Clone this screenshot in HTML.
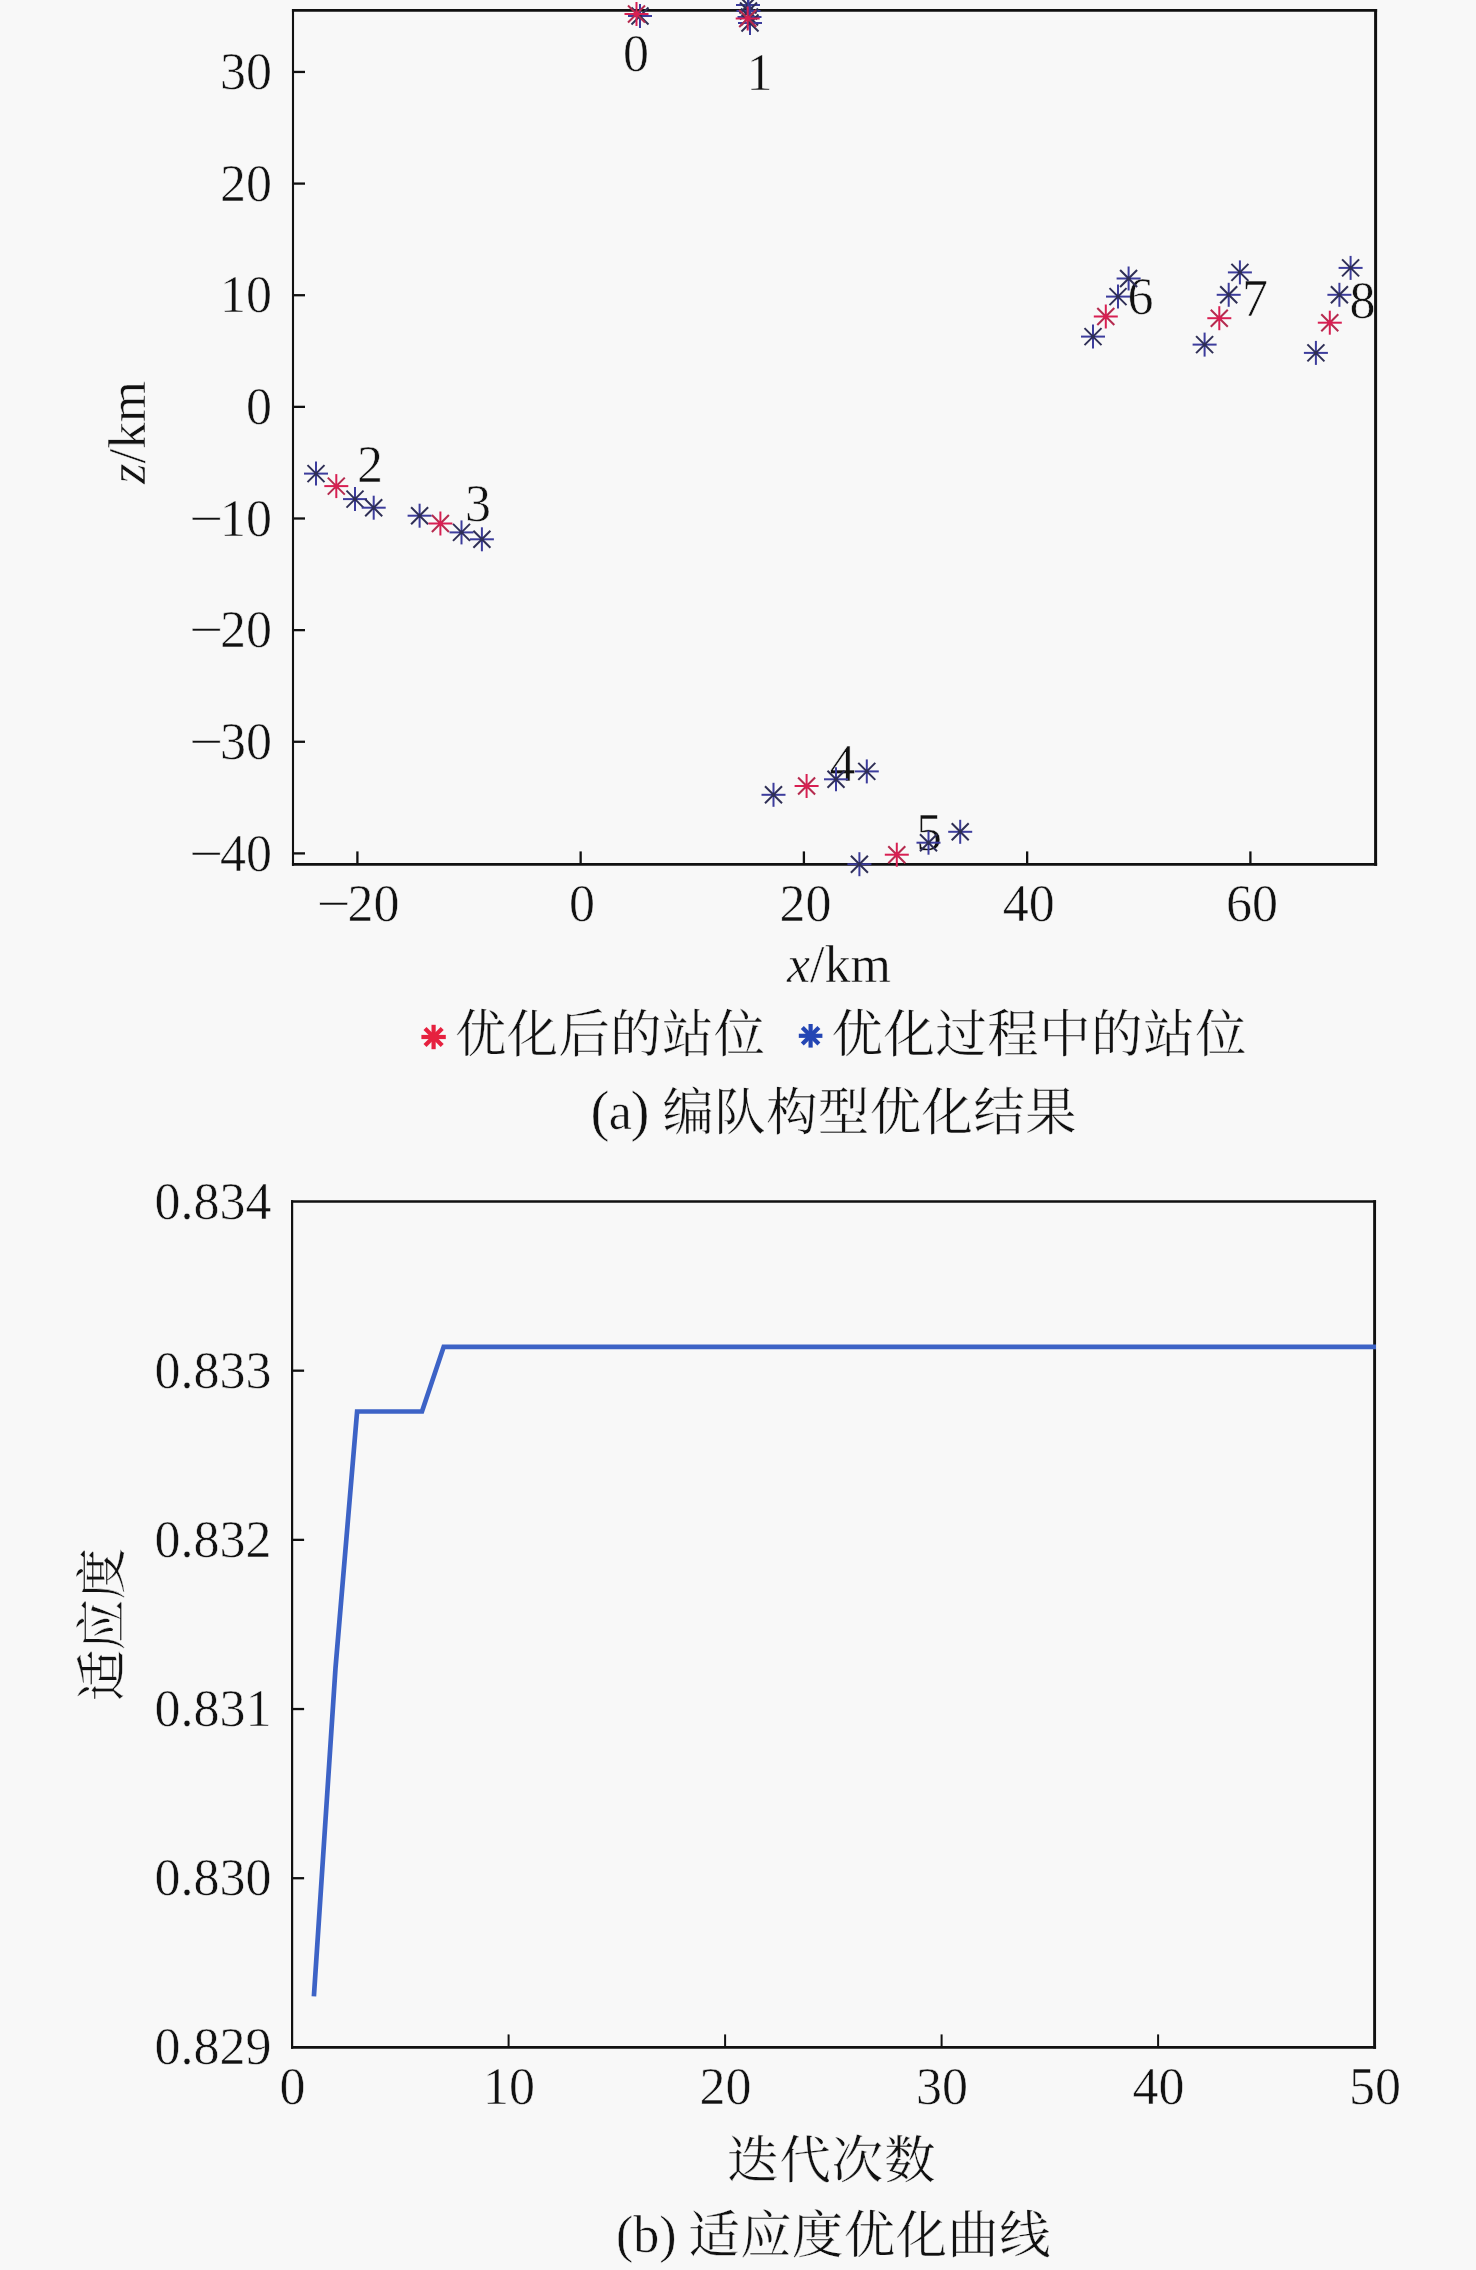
<!DOCTYPE html>
<html lang="zh-CN">
<head>
<meta charset="utf-8">
<title>编队构型优化结果</title>
<style>
html,body{margin:0;padding:0;background:#f8f8f8;}
body{width:1476px;height:2270px;overflow:hidden;}
svg{display:block;}
text{font-family:"Liberation Serif","Noto Serif CJK SC",serif;fill:#111111;}
.num{font-size:52px;stroke:#f8f8f8;stroke-width:0.55px;}
.cjk{font-family:"Liberation Serif","Noto Serif CJK SC",serif;font-size:51.3px;font-weight:400;stroke:#f8f8f8;stroke-width:0.3px;}
.lat{font-size:52px;stroke:#f8f8f8;stroke-width:0.5px;}
.it{font-style:italic;}
.ax{stroke:#111;fill:none;}
.mk line{stroke-width:2.0;stroke-linecap:butt;}
</style>
</head>
<body>
<svg width="1476" height="2270" viewBox="0 0 1476 2270">
<rect x="0" y="0" width="1476" height="2270" fill="#f8f8f8"/>

<line class="ax" x1="293.0" y1="8.950000000000001" x2="293.0" y2="865.75" stroke-width="2.1"/>
<line class="ax" x1="1375.6" y1="8.950000000000001" x2="1375.6" y2="865.75" stroke-width="3.0"/>
<line class="ax" x1="291.95" y1="10.3" x2="1377.1" y2="10.3" stroke-width="2.7"/>
<line class="ax" x1="291.95" y1="864.4" x2="1377.1" y2="864.4" stroke-width="2.7"/>
<line class="ax" x1="293.0" y1="71.95" x2="305.0" y2="71.95" stroke-width="2.3"/>
<text class="num" x="272.0" y="89.2" text-anchor="end">30</text>
<line class="ax" x1="293.0" y1="183.59" x2="305.0" y2="183.59" stroke-width="2.3"/>
<text class="num" x="272.0" y="200.8" text-anchor="end">20</text>
<line class="ax" x1="293.0" y1="295.22" x2="305.0" y2="295.22" stroke-width="2.3"/>
<text class="num" x="272.0" y="312.4" text-anchor="end">10</text>
<line class="ax" x1="293.0" y1="406.86" x2="305.0" y2="406.86" stroke-width="2.3"/>
<text class="num" x="272.0" y="424.1" text-anchor="end">0</text>
<line class="ax" x1="293.0" y1="518.49" x2="305.0" y2="518.49" stroke-width="2.3"/>
<text class="num" x="220.0" y="535.7">10</text>
<text class="num" transform="translate(222.9,535.8) scale(1.16,1)" text-anchor="end">−</text>
<line class="ax" x1="293.0" y1="630.13" x2="305.0" y2="630.13" stroke-width="2.3"/>
<text class="num" x="220.0" y="647.3">20</text>
<text class="num" transform="translate(222.9,647.4) scale(1.16,1)" text-anchor="end">−</text>
<line class="ax" x1="293.0" y1="741.77" x2="305.0" y2="741.77" stroke-width="2.3"/>
<text class="num" x="220.0" y="759.0">30</text>
<text class="num" transform="translate(222.9,759.1) scale(1.16,1)" text-anchor="end">−</text>
<line class="ax" x1="293.0" y1="853.40" x2="305.0" y2="853.40" stroke-width="2.3"/>
<text class="num" x="220.0" y="870.6">40</text>
<text class="num" transform="translate(222.9,870.7) scale(1.16,1)" text-anchor="end">−</text>
<line class="ax" x1="357.40" y1="864.4" x2="357.40" y2="851.4" stroke-width="2.3"/>
<text class="num" x="347.6" y="921.3">20</text>
<text class="num" transform="translate(350.4,921.4) scale(1.16,1)" text-anchor="end">−</text>
<line class="ax" x1="580.65" y1="864.4" x2="580.65" y2="851.4" stroke-width="2.3"/>
<text class="num" x="582.1" y="921.3" text-anchor="middle">0</text>
<line class="ax" x1="803.90" y1="864.4" x2="803.90" y2="851.4" stroke-width="2.3"/>
<text class="num" x="805.4" y="921.3" text-anchor="middle">20</text>
<line class="ax" x1="1027.15" y1="864.4" x2="1027.15" y2="851.4" stroke-width="2.3"/>
<text class="num" x="1028.7" y="921.3" text-anchor="middle">40</text>
<line class="ax" x1="1250.40" y1="864.4" x2="1250.40" y2="851.4" stroke-width="2.3"/>
<text class="num" x="1251.9" y="921.3" text-anchor="middle">60</text>
<text class="num" style="font-size:53px" transform="translate(145.2,432.5) rotate(-90)" text-anchor="middle"><tspan class="it">z</tspan>/km</text>
<text class="num" x="839" y="982" text-anchor="middle"><tspan class="it">x</tspan>/km</text>
<text class="num" x="636" y="71" text-anchor="middle">0</text>
<text class="num" x="759.5" y="90" text-anchor="middle">1</text>
<text class="num" x="370" y="482" text-anchor="middle">2</text>
<text class="num" x="478" y="521" text-anchor="middle">3</text>
<text class="num" x="842.5" y="781" text-anchor="middle">4</text>
<text class="num" x="929" y="850" text-anchor="middle">5</text>
<text class="num" x="1140.5" y="314" text-anchor="middle">6</text>
<text class="num" x="1255" y="316" text-anchor="middle">7</text>
<text class="num" x="1362.5" y="318" text-anchor="middle">8</text>
<g class="mk" stroke="#3c3c9c"><line x1="631.5" y1="7.5" x2="648.5" y2="24.5" stroke="#2e2e55"/><line x1="631.5" y1="24.5" x2="648.5" y2="7.5" stroke="#2e2e55"/><line x1="628.0" y1="16.0" x2="652.0" y2="16.0"/><line x1="640.0" y1="4.0" x2="640.0" y2="28.0"/></g>
<circle cx="640" cy="16" r="2.2" fill="#2e2e55"/>
<g class="mk" stroke="#3c3c9c"><line x1="739.5" y1="-3.5" x2="756.5" y2="13.5" stroke="#2e2e55"/><line x1="739.5" y1="13.5" x2="756.5" y2="-3.5" stroke="#2e2e55"/><line x1="736.0" y1="5.0" x2="760.0" y2="5.0"/><line x1="748.0" y1="-7.0" x2="748.0" y2="17.0"/></g>
<circle cx="748" cy="5" r="2.2" fill="#2e2e55"/>
<g class="mk" stroke="#3c3c9c"><line x1="740.0" y1="2.5" x2="757.0" y2="19.5" stroke="#2e2e55"/><line x1="740.0" y1="19.5" x2="757.0" y2="2.5" stroke="#2e2e55"/><line x1="736.5" y1="11.0" x2="760.5" y2="11.0"/><line x1="748.5" y1="-1.0" x2="748.5" y2="23.0"/></g>
<circle cx="748.5" cy="11" r="2.2" fill="#2e2e55"/>
<g class="mk" stroke="#3c3c9c"><line x1="741.0" y1="8.5" x2="758.0" y2="25.5" stroke="#2e2e55"/><line x1="741.0" y1="25.5" x2="758.0" y2="8.5" stroke="#2e2e55"/><line x1="737.5" y1="17.0" x2="761.5" y2="17.0"/><line x1="749.5" y1="5.0" x2="749.5" y2="29.0"/></g>
<circle cx="749.5" cy="17" r="2.2" fill="#2e2e55"/>
<g class="mk" stroke="#3c3c9c"><line x1="741.5" y1="14.5" x2="758.5" y2="31.5" stroke="#2e2e55"/><line x1="741.5" y1="31.5" x2="758.5" y2="14.5" stroke="#2e2e55"/><line x1="738.0" y1="23.0" x2="762.0" y2="23.0"/><line x1="750.0" y1="11.0" x2="750.0" y2="35.0"/></g>
<circle cx="750" cy="23" r="2.2" fill="#2e2e55"/>
<g class="mk" stroke="#3c3c9c"><line x1="307.5" y1="465.1" x2="324.5" y2="482.1" stroke="#2e2e55"/><line x1="307.5" y1="482.1" x2="324.5" y2="465.1" stroke="#2e2e55"/><line x1="304.0" y1="473.6" x2="328.0" y2="473.6"/><line x1="316.0" y1="461.6" x2="316.0" y2="485.6"/></g>
<circle cx="316" cy="473.6" r="2.2" fill="#2e2e55"/>
<g class="mk" stroke="#3c3c9c"><line x1="346.5" y1="490.6" x2="363.5" y2="507.6" stroke="#2e2e55"/><line x1="346.5" y1="507.6" x2="363.5" y2="490.6" stroke="#2e2e55"/><line x1="343.0" y1="499.1" x2="367.0" y2="499.1"/><line x1="355.0" y1="487.1" x2="355.0" y2="511.1"/></g>
<circle cx="355" cy="499.1" r="2.2" fill="#2e2e55"/>
<g class="mk" stroke="#3c3c9c"><line x1="365.2" y1="499.2" x2="382.2" y2="516.2" stroke="#2e2e55"/><line x1="365.2" y1="516.2" x2="382.2" y2="499.2" stroke="#2e2e55"/><line x1="361.7" y1="507.7" x2="385.7" y2="507.7"/><line x1="373.7" y1="495.7" x2="373.7" y2="519.7"/></g>
<circle cx="373.7" cy="507.7" r="2.2" fill="#2e2e55"/>
<g class="mk" stroke="#3c3c9c"><line x1="411.1" y1="507.2" x2="428.1" y2="524.2" stroke="#2e2e55"/><line x1="411.1" y1="524.2" x2="428.1" y2="507.2" stroke="#2e2e55"/><line x1="407.6" y1="515.7" x2="431.6" y2="515.7"/><line x1="419.6" y1="503.7" x2="419.6" y2="527.7"/></g>
<circle cx="419.6" cy="515.7" r="2.2" fill="#2e2e55"/>
<g class="mk" stroke="#3c3c9c"><line x1="453.0" y1="523.9" x2="470.0" y2="540.9" stroke="#2e2e55"/><line x1="453.0" y1="540.9" x2="470.0" y2="523.9" stroke="#2e2e55"/><line x1="449.5" y1="532.4" x2="473.5" y2="532.4"/><line x1="461.5" y1="520.4" x2="461.5" y2="544.4"/></g>
<circle cx="461.5" cy="532.4" r="2.2" fill="#2e2e55"/>
<g class="mk" stroke="#3c3c9c"><line x1="473.4" y1="530.8" x2="490.4" y2="547.8" stroke="#2e2e55"/><line x1="473.4" y1="547.8" x2="490.4" y2="530.8" stroke="#2e2e55"/><line x1="469.9" y1="539.3" x2="493.9" y2="539.3"/><line x1="481.9" y1="527.3" x2="481.9" y2="551.3"/></g>
<circle cx="481.9" cy="539.3" r="2.2" fill="#2e2e55"/>
<g class="mk" stroke="#3c3c9c"><line x1="765.0" y1="786.3" x2="782.0" y2="803.3" stroke="#2e2e55"/><line x1="765.0" y1="803.3" x2="782.0" y2="786.3" stroke="#2e2e55"/><line x1="761.5" y1="794.8" x2="785.5" y2="794.8"/><line x1="773.5" y1="782.8" x2="773.5" y2="806.8"/></g>
<circle cx="773.5" cy="794.8" r="2.2" fill="#2e2e55"/>
<g class="mk" stroke="#3c3c9c"><line x1="827.5" y1="770.8" x2="844.5" y2="787.8" stroke="#2e2e55"/><line x1="827.5" y1="787.8" x2="844.5" y2="770.8" stroke="#2e2e55"/><line x1="824.0" y1="779.3" x2="848.0" y2="779.3"/><line x1="836.0" y1="767.3" x2="836.0" y2="791.3"/></g>
<circle cx="836" cy="779.3" r="2.2" fill="#2e2e55"/>
<g class="mk" stroke="#3c3c9c"><line x1="858.3" y1="762.9" x2="875.3" y2="779.9" stroke="#2e2e55"/><line x1="858.3" y1="779.9" x2="875.3" y2="762.9" stroke="#2e2e55"/><line x1="854.8" y1="771.4" x2="878.8" y2="771.4"/><line x1="866.8" y1="759.4" x2="866.8" y2="783.4"/></g>
<circle cx="866.8" cy="771.4" r="2.2" fill="#2e2e55"/>
<g class="mk" stroke="#3c3c9c"><line x1="850.9" y1="855.7" x2="867.9" y2="872.7" stroke="#2e2e55"/><line x1="850.9" y1="872.7" x2="867.9" y2="855.7" stroke="#2e2e55"/><line x1="847.4" y1="864.2" x2="871.4" y2="864.2"/><line x1="859.4" y1="852.2" x2="859.4" y2="876.2"/></g>
<circle cx="859.4" cy="864.2" r="2.2" fill="#2e2e55"/>
<g class="mk" stroke="#3c3c9c"><line x1="920.0" y1="834.2" x2="937.0" y2="851.2" stroke="#2e2e55"/><line x1="920.0" y1="851.2" x2="937.0" y2="834.2" stroke="#2e2e55"/><line x1="916.5" y1="842.7" x2="940.5" y2="842.7"/><line x1="928.5" y1="830.7" x2="928.5" y2="854.7"/></g>
<circle cx="928.5" cy="842.7" r="2.2" fill="#2e2e55"/>
<g class="mk" stroke="#3c3c9c"><line x1="951.7" y1="823.3" x2="968.7" y2="840.3" stroke="#2e2e55"/><line x1="951.7" y1="840.3" x2="968.7" y2="823.3" stroke="#2e2e55"/><line x1="948.2" y1="831.8" x2="972.2" y2="831.8"/><line x1="960.2" y1="819.8" x2="960.2" y2="843.8"/></g>
<circle cx="960.2" cy="831.8" r="2.2" fill="#2e2e55"/>
<g class="mk" stroke="#3c3c9c"><line x1="1084.5" y1="328.1" x2="1101.5" y2="345.1" stroke="#2e2e55"/><line x1="1084.5" y1="345.1" x2="1101.5" y2="328.1" stroke="#2e2e55"/><line x1="1081.0" y1="336.6" x2="1105.0" y2="336.6"/><line x1="1093.0" y1="324.6" x2="1093.0" y2="348.6"/></g>
<circle cx="1093" cy="336.6" r="2.2" fill="#2e2e55"/>
<g class="mk" stroke="#3c3c9c"><line x1="1109.5" y1="288.1" x2="1126.5" y2="305.1" stroke="#2e2e55"/><line x1="1109.5" y1="305.1" x2="1126.5" y2="288.1" stroke="#2e2e55"/><line x1="1106.0" y1="296.6" x2="1130.0" y2="296.6"/><line x1="1118.0" y1="284.6" x2="1118.0" y2="308.6"/></g>
<circle cx="1118" cy="296.6" r="2.2" fill="#2e2e55"/>
<g class="mk" stroke="#3c3c9c"><line x1="1120.1" y1="270.0" x2="1137.1" y2="287.0" stroke="#2e2e55"/><line x1="1120.1" y1="287.0" x2="1137.1" y2="270.0" stroke="#2e2e55"/><line x1="1116.6" y1="278.5" x2="1140.6" y2="278.5"/><line x1="1128.6" y1="266.5" x2="1128.6" y2="290.5"/></g>
<circle cx="1128.6" cy="278.5" r="2.2" fill="#2e2e55"/>
<g class="mk" stroke="#3c3c9c"><line x1="1196.1" y1="336.1" x2="1213.1" y2="353.1" stroke="#2e2e55"/><line x1="1196.1" y1="353.1" x2="1213.1" y2="336.1" stroke="#2e2e55"/><line x1="1192.6" y1="344.6" x2="1216.6" y2="344.6"/><line x1="1204.6" y1="332.6" x2="1204.6" y2="356.6"/></g>
<circle cx="1204.6" cy="344.6" r="2.2" fill="#2e2e55"/>
<g class="mk" stroke="#3c3c9c"><line x1="1220.2" y1="286.3" x2="1237.2" y2="303.3" stroke="#2e2e55"/><line x1="1220.2" y1="303.3" x2="1237.2" y2="286.3" stroke="#2e2e55"/><line x1="1216.7" y1="294.8" x2="1240.7" y2="294.8"/><line x1="1228.7" y1="282.8" x2="1228.7" y2="306.8"/></g>
<circle cx="1228.7" cy="294.8" r="2.2" fill="#2e2e55"/>
<g class="mk" stroke="#3c3c9c"><line x1="1231.4" y1="263.9" x2="1248.4" y2="280.9" stroke="#2e2e55"/><line x1="1231.4" y1="280.9" x2="1248.4" y2="263.9" stroke="#2e2e55"/><line x1="1227.9" y1="272.4" x2="1251.9" y2="272.4"/><line x1="1239.9" y1="260.4" x2="1239.9" y2="284.4"/></g>
<circle cx="1239.9" cy="272.4" r="2.2" fill="#2e2e55"/>
<g class="mk" stroke="#3c3c9c"><line x1="1307.4" y1="344.4" x2="1324.4" y2="361.4" stroke="#2e2e55"/><line x1="1307.4" y1="361.4" x2="1324.4" y2="344.4" stroke="#2e2e55"/><line x1="1303.9" y1="352.9" x2="1327.9" y2="352.9"/><line x1="1315.9" y1="340.9" x2="1315.9" y2="364.9"/></g>
<circle cx="1315.9" cy="352.9" r="2.2" fill="#2e2e55"/>
<g class="mk" stroke="#3c3c9c"><line x1="1330.9" y1="286.3" x2="1347.9" y2="303.3" stroke="#2e2e55"/><line x1="1330.9" y1="303.3" x2="1347.9" y2="286.3" stroke="#2e2e55"/><line x1="1327.4" y1="294.8" x2="1351.4" y2="294.8"/><line x1="1339.4" y1="282.8" x2="1339.4" y2="306.8"/></g>
<circle cx="1339.4" cy="294.8" r="2.2" fill="#2e2e55"/>
<g class="mk" stroke="#3c3c9c"><line x1="1342.1" y1="259.4" x2="1359.1" y2="276.4" stroke="#2e2e55"/><line x1="1342.1" y1="276.4" x2="1359.1" y2="259.4" stroke="#2e2e55"/><line x1="1338.6" y1="267.9" x2="1362.6" y2="267.9"/><line x1="1350.6" y1="255.9" x2="1350.6" y2="279.9"/></g>
<circle cx="1350.6" cy="267.9" r="2.2" fill="#2e2e55"/>
<g class="mk" stroke="#d81f52" stroke-width="2.4"><line x1="628.0" y1="5.5" x2="645.0" y2="22.5" stroke="#b52a4e"/><line x1="628.0" y1="22.5" x2="645.0" y2="5.5" stroke="#b52a4e"/><line x1="624.5" y1="14.0" x2="648.5" y2="14.0"/><line x1="636.5" y1="2.0" x2="636.5" y2="26.0"/></g>
<circle cx="636.5" cy="14" r="2.6" fill="#d81f52"/>
<g class="mk" stroke="#d81f52" stroke-width="2.4"><line x1="739.2" y1="10.0" x2="756.2" y2="27.0" stroke="#b52a4e"/><line x1="739.2" y1="27.0" x2="756.2" y2="10.0" stroke="#b52a4e"/><line x1="735.7" y1="18.5" x2="759.7" y2="18.5"/><line x1="747.7" y1="6.5" x2="747.7" y2="30.5"/></g>
<circle cx="747.7" cy="18.5" r="2.6" fill="#d81f52"/>
<g class="mk" stroke="#d81f52" stroke-width="2.4"><line x1="327.8" y1="477.6" x2="344.8" y2="494.6" stroke="#b52a4e"/><line x1="327.8" y1="494.6" x2="344.8" y2="477.6" stroke="#b52a4e"/><line x1="324.3" y1="486.1" x2="348.3" y2="486.1"/><line x1="336.3" y1="474.1" x2="336.3" y2="498.1"/></g>
<circle cx="336.3" cy="486.1" r="2.6" fill="#d81f52"/>
<g class="mk" stroke="#d81f52" stroke-width="2.4"><line x1="431.9" y1="515.0" x2="448.9" y2="532.0" stroke="#b52a4e"/><line x1="431.9" y1="532.0" x2="448.9" y2="515.0" stroke="#b52a4e"/><line x1="428.4" y1="523.5" x2="452.4" y2="523.5"/><line x1="440.4" y1="511.5" x2="440.4" y2="535.5"/></g>
<circle cx="440.4" cy="523.5" r="2.6" fill="#d81f52"/>
<g class="mk" stroke="#d81f52" stroke-width="2.4"><line x1="798.1" y1="777.5" x2="815.1" y2="794.5" stroke="#b52a4e"/><line x1="798.1" y1="794.5" x2="815.1" y2="777.5" stroke="#b52a4e"/><line x1="794.6" y1="786.0" x2="818.6" y2="786.0"/><line x1="806.6" y1="774.0" x2="806.6" y2="798.0"/></g>
<circle cx="806.6" cy="786" r="2.6" fill="#d81f52"/>
<g class="mk" stroke="#d81f52" stroke-width="2.4"><line x1="888.3" y1="846.2" x2="905.3" y2="863.2" stroke="#b52a4e"/><line x1="888.3" y1="863.2" x2="905.3" y2="846.2" stroke="#b52a4e"/><line x1="884.8" y1="854.7" x2="908.8" y2="854.7"/><line x1="896.8" y1="842.7" x2="896.8" y2="866.7"/></g>
<circle cx="896.8" cy="854.7" r="2.6" fill="#d81f52"/>
<g class="mk" stroke="#d81f52" stroke-width="2.4"><line x1="1097.3" y1="308.0" x2="1114.3" y2="325.0" stroke="#b52a4e"/><line x1="1097.3" y1="325.0" x2="1114.3" y2="308.0" stroke="#b52a4e"/><line x1="1093.8" y1="316.5" x2="1117.8" y2="316.5"/><line x1="1105.8" y1="304.5" x2="1105.8" y2="328.5"/></g>
<circle cx="1105.8" cy="316.5" r="2.6" fill="#d81f52"/>
<g class="mk" stroke="#d81f52" stroke-width="2.4"><line x1="1210.8" y1="309.7" x2="1227.8" y2="326.7" stroke="#b52a4e"/><line x1="1210.8" y1="326.7" x2="1227.8" y2="309.7" stroke="#b52a4e"/><line x1="1207.3" y1="318.2" x2="1231.3" y2="318.2"/><line x1="1219.3" y1="306.2" x2="1219.3" y2="330.2"/></g>
<circle cx="1219.3" cy="318.2" r="2.6" fill="#d81f52"/>
<g class="mk" stroke="#d81f52" stroke-width="2.4"><line x1="1321.3" y1="314.2" x2="1338.3" y2="331.2" stroke="#b52a4e"/><line x1="1321.3" y1="331.2" x2="1338.3" y2="314.2" stroke="#b52a4e"/><line x1="1317.8" y1="322.7" x2="1341.8" y2="322.7"/><line x1="1329.8" y1="310.7" x2="1329.8" y2="334.7"/></g>
<circle cx="1329.8" cy="322.7" r="2.6" fill="#d81f52"/>
<g class="lg" stroke="#e6213f" stroke-width="4.2"><line x1="425.0" y1="1028.4" x2="442.2" y2="1045.6"/><line x1="425.0" y1="1045.6" x2="442.2" y2="1028.4"/><line x1="421.4" y1="1037.0" x2="445.8" y2="1037.0"/><line x1="433.6" y1="1024.8" x2="433.6" y2="1049.2"/></g>
<circle cx="433.6" cy="1037.0" r="4.3" fill="#e6213f"/>
<g class="lg" stroke="#2446b4" stroke-width="4.2"><line x1="802.3" y1="1027.5" x2="818.9" y2="1044.1"/><line x1="802.3" y1="1044.1" x2="818.9" y2="1027.5"/><line x1="798.8" y1="1035.8" x2="822.4" y2="1035.8"/><line x1="810.6" y1="1024.0" x2="810.6" y2="1047.6"/></g>
<circle cx="810.6" cy="1035.8" r="4.3" fill="#2446b4"/>
<text class="cjk" x="455" y="1051.6" textLength="310" lengthAdjust="spacing">优化后的站位</text>
<text class="cjk" x="831.5" y="1051.6" textLength="415" lengthAdjust="spacing">优化过程中的站位</text>
<text class="lat" y="1129"><tspan x="590.4" dy="1.4" style="font-size:57px">(</tspan><tspan x="608.8" dy="-1.4">a</tspan><tspan x="630.4" dy="1.4" style="font-size:57px">)</tspan></text>
<text class="cjk" x="662.5" y="1130" textLength="414" lengthAdjust="spacing">编队构型优化结果</text>
<line class="ax" x1="292.1" y1="1200.2" x2="292.1" y2="2048.75" stroke-width="2.2"/>
<line class="ax" x1="1374.6" y1="1200.2" x2="1374.6" y2="2048.75" stroke-width="2.9"/>
<line class="ax" x1="291.0" y1="1201.5" x2="1376.05" y2="1201.5" stroke-width="2.6"/>
<line class="ax" x1="291.0" y1="2047.4" x2="1376.05" y2="2047.4" stroke-width="2.7"/>
<text class="num" x="271.6" y="1218.5" text-anchor="end">0.834</text>
<line class="ax" x1="292.1" y1="1370.68" x2="304.1" y2="1370.68" stroke-width="2.3"/>
<text class="num" x="271.6" y="1387.7" text-anchor="end">0.833</text>
<line class="ax" x1="292.1" y1="1539.86" x2="304.1" y2="1539.86" stroke-width="2.3"/>
<text class="num" x="271.6" y="1556.9" text-anchor="end">0.832</text>
<line class="ax" x1="292.1" y1="1709.04" x2="304.1" y2="1709.04" stroke-width="2.3"/>
<text class="num" x="271.6" y="1726.0" text-anchor="end">0.831</text>
<line class="ax" x1="292.1" y1="1878.22" x2="304.1" y2="1878.22" stroke-width="2.3"/>
<text class="num" x="271.6" y="1895.2" text-anchor="end">0.830</text>
<text class="num" x="271.6" y="2064.4" text-anchor="end">0.829</text>
<text class="num" x="292.4" y="2104.2" text-anchor="middle">0</text>
<line class="ax" x1="508.6" y1="2047.4" x2="508.6" y2="2034.4" stroke-width="2.0"/>
<text class="num" x="508.9" y="2104.2" text-anchor="middle">10</text>
<line class="ax" x1="725.1" y1="2047.4" x2="725.1" y2="2034.4" stroke-width="2.0"/>
<text class="num" x="725.4" y="2104.2" text-anchor="middle">20</text>
<line class="ax" x1="941.6" y1="2047.4" x2="941.6" y2="2034.4" stroke-width="2.0"/>
<text class="num" x="941.9" y="2104.2" text-anchor="middle">30</text>
<line class="ax" x1="1158.1" y1="2047.4" x2="1158.1" y2="2034.4" stroke-width="2.0"/>
<text class="num" x="1158.4" y="2104.2" text-anchor="middle">40</text>
<text class="num" x="1374.9" y="2104.2" text-anchor="middle">50</text>
<polyline fill="none" stroke="#3d63c6" stroke-width="4.7" stroke-linejoin="miter" points="313.9,1996.4 335.5,1668 357.1,1411.5 422.0,1411.5 443.7,1346.8 1376,1346.8"/>
<text class="cjk" transform="translate(120,1624.5) rotate(-90)" text-anchor="middle" textLength="153" lengthAdjust="spacing">适应度</text>
<text class="cjk" x="727" y="2177.5" textLength="208.5" lengthAdjust="spacing">迭代次数</text>
<text class="lat" x="616" y="2252">(b)</text>
<text class="cjk" x="688.5" y="2253" textLength="362" lengthAdjust="spacing">适应度优化曲线</text>
</svg>
</body>
</html>
